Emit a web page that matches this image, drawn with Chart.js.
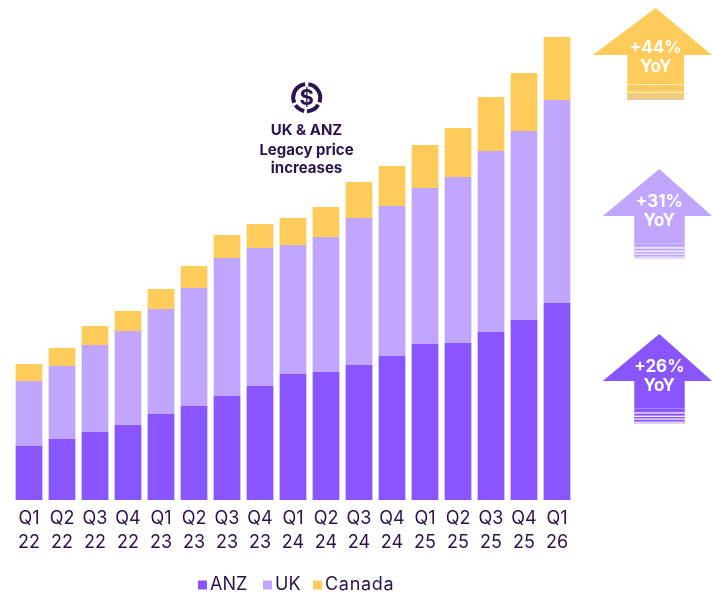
<!DOCTYPE html>
<html>
<head>
<meta charset="utf-8">
<style>html,body{margin:0;padding:0;background:#fff}#w{width:712px;height:593px;position:relative}canvas{display:block}</style>
<script src="https://cdn.jsdelivr.net/npm/chart.js@4"></script>
</head>
<body>
<div id="w"><canvas id="c" width="712" height="593"></canvas></div>
<script>
const quarters = ["Q1","Q2","Q3","Q4","Q1","Q2","Q3","Q4","Q1","Q2","Q3","Q4","Q1","Q2","Q3","Q4","Q1"];
const years = ["22","22","22","22","23","23","23","23","24","24","24","24","25","25","25","25","26"];
const anz = [54,61,68,75,86,94,104,114,126,128,135,144,156,157,168,180,197];
const uk = [65,73,87,94,105,118,138,138,129,135,147,150,156,166,181,189,203];
const canada = [17,18,19,20,20,22,23,24,27,30,36,40,43,49,54,58,63];
const DARK = "#2d1250", FONT = "Inter, Lato, sans-serif";
const PURPLE = "#8855ff", LILAC = "#c0a6ff", AMBER = "#ffcb5a";

const stripeAt = [0,4.3,7.7,10.3,13.5];
const stripeH = [1,1.2,1.2,1.6,2.5];
const arrows = [
 {t:"+44%", y1:48, y2:67, cx:655.7, top:8, wing:55, l:592.7, r:712, sl:627.3, sr:684, solid:84, end:100, col:AMBER, stripe:["#ffeec4","#e9c878","#ffeec4","#e6cd92","#ddcba6"]},
 {t:"+31%", y1:202, y2:221, cx:659.3, top:169, wing:216, l:602.7, r:712, sl:634.3, sr:684.7, solid:243, end:259, col:LILAC, stripe:["#cdb9ff","#ffffff","#ffffff","#e4dcf5","#e4dcf5"]},
 {t:"+26%", y1:367, y2:386, cx:659.3, top:334, wing:381, l:602.7, r:712, sl:634.3, sr:684.7, solid:408, end:424, col:PURPLE, stripe:["#a684ff","#ffffff","#ffffff","#dcd2f2","#dcd2f2"]}
];
const legendX = [198,263,313];
const legendSpacing = ["0px","0px","0.7px"];

const overlay = {
 id:"overlay",
 afterDraw(ch){
  const x = ch.ctx;
  x.save();
  arrows.forEach(a=>{
   x.fillStyle=a.col;
   x.beginPath();
   x.moveTo(a.cx,a.top);x.lineTo(a.r,a.wing);x.lineTo(a.sr,a.wing);x.lineTo(a.sr,a.end);
   x.lineTo(a.sl,a.end);x.lineTo(a.sl,a.wing);x.lineTo(a.l,a.wing);x.closePath();x.fill();
   a.stripe.forEach((s,i)=>{x.fillStyle=s;x.fillRect(a.sl,a.solid+stripeAt[i],a.sr-a.sl,stripeH[i]);});
   x.fillStyle="#fff";x.textAlign="center";x.textBaseline="middle";
   x.font="700 17px "+FONT;
   x.fillText(a.t,a.cx,a.y1);
   x.fillText("YoY",a.cx,a.y2);
  });
  const ix=306.7, iy=97.7;
  x.strokeStyle=DARK;x.lineWidth=4;
  [[-1.45,0.35],[0.55,1.55],[1.75,2.55],[2.75,4.6]].forEach(s=>{
   x.beginPath();x.arc(ix,iy,13.5,s[0],s[1]);x.stroke();
  });
  x.fillStyle=DARK;x.textAlign="center";x.textBaseline="middle";
  x.font="700 22px "+FONT;
  x.fillText("$",ix,iy+0.5);
  x.font="700 15px "+FONT;
  x.fillText("UK & ANZ",306.5,130);
  x.fillText("Legacy price",306.5,150);
  x.fillText("increases",306.5,168.5);
  x.textAlign="left";
  x.font="400 18px "+FONT;
  ch.data.datasets.forEach((d,i)=>{
   x.fillStyle=d.backgroundColor;
   x.fillRect(legendX[i],580.5,9,9);
   x.fillStyle=DARK;
   x.letterSpacing=legendSpacing[i];
   x.fillText(d.label,legendX[i]+12,585);
  });
  x.restore();
 }
};

new Chart(document.getElementById("c"),{
 type:"bar",
 data:{
  labels:quarters.map((q,i)=>[q,years[i]]),
  datasets:[
   {label:"ANZ",data:anz,backgroundColor:PURPLE},
   {label:"UK",data:uk,backgroundColor:LILAC},
   {label:"Canada",data:canada,backgroundColor:AMBER}
  ]
 },
 options:{
  responsive:false,animation:false,
  barPercentage:0.81,categoryPercentage:1,
  layout:{padding:{left:12.5,right:138.5,top:20,bottom:0}},
  scales:{
   x:{stacked:true,grid:{display:false,drawTicks:false},border:{display:false},
      afterFit(s){s.height=93;},
      ticks:{color:DARK,font:{family:FONT,size:18,lineHeight:1.35},padding:6,maxRotation:0,autoSkip:false}},
   y:{stacked:true,display:false,min:0,max:480}
  },
  plugins:{tooltip:{enabled:false},legend:{display:false}}
 },
 plugins:[overlay]
});
</script>
</body>
</html>
